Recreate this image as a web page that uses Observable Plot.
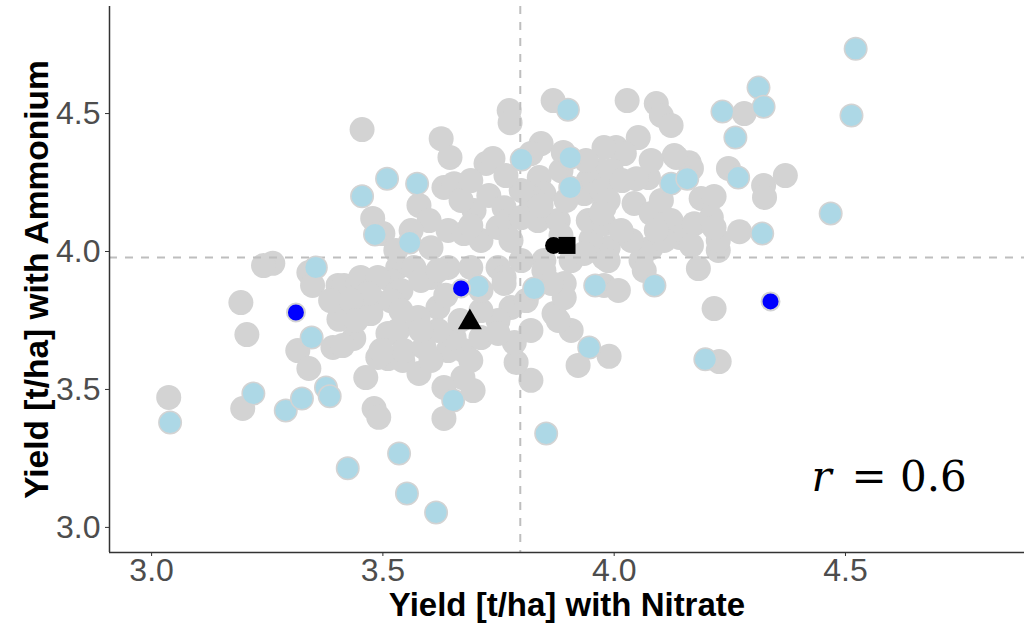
<!DOCTYPE html>
<html>
<head>
<meta charset="utf-8">
<script src="https://cdn.jsdelivr.net/npm/d3@7"></script>
<script src="https://cdn.jsdelivr.net/npm/@observablehq/plot@0.6"></script>
<style>
  html, body { margin: 0; padding: 0; background: #ffffff; }
  #chart svg { display: block; }
</style>
</head>
<body>
<div id="chart"></div>
<script>
// All sites: [yield with nitrate, yield with ammonium] (t/ha)
const allSites = [
  [3.037,3.471],[3.197,3.431],[3.193,3.815],[3.206,3.699],[3.262,3.957],[3.242,3.949],[3.316,3.641],[3.340,3.576],
  [3.340,3.924],[3.348,3.877],[3.403,3.877],[3.405,3.754],[3.437,3.685],[3.392,3.652],[3.413,3.659],[3.459,3.775],
  [3.416,3.877],[3.446,3.884],[3.474,3.888],[3.481,3.822],[3.463,3.543],[3.481,3.431],[3.491,3.399],[3.511,3.703],
  [3.511,3.612],[3.543,3.605],[3.578,3.558],[3.632,3.395],[3.695,3.496],[3.673,3.543],[3.632,3.507],[3.820,3.533],
  [3.788,3.598],[3.784,3.670],[3.922,3.587],[3.989,3.620],[3.907,3.714],[3.879,3.750],[4.216,3.793],[4.227,3.601],
  [4.182,3.938],[4.225,4.004],[4.225,4.040],[3.978,3.877],[4.009,3.859],
  [3.455,4.442],[3.626,4.409],[3.645,4.341],[3.773,4.511],[3.775,4.467],[3.868,4.547],[4.028,4.547],[4.091,4.536],
  [4.102,4.493],[4.123,4.457],[4.281,4.500],[4.247,4.301],[4.323,4.239],[4.325,4.196],[4.370,4.275],[4.271,4.072],
  [4.188,4.192],[4.216,4.199],[4.074,4.268],[4.048,4.264],[4.134,4.341],[4.162,4.322],[4.167,4.301],[4.130,4.348],
  [4.052,4.413],[4.004,4.377],[4.022,4.355],[3.978,4.377],[3.972,4.293],[3.842,4.391],[3.820,4.355],[3.890,4.359],
  [3.723,4.319],[3.738,4.337],[3.838,4.268],[3.848,4.210],[3.820,4.196],[3.944,4.257],[3.935,4.210],[3.972,4.221],
  [3.978,4.159],[3.994,4.293],[3.987,4.185],[4.043,4.174],[4.080,4.138],[4.123,4.112],[4.141,4.051],[4.173,4.101],
  [4.210,4.123],[4.216,4.087],[4.080,4.014],[4.058,3.967],[3.987,4.014],[3.978,3.978],
  [3.478,4.120],[3.500,4.065],[3.578,4.167],[3.632,4.232],[3.654,4.246],[3.697,4.149],[3.729,4.203],[3.762,4.159],
  [3.600,4.112],[3.641,4.076],[3.675,4.065],[3.712,4.040],[3.749,4.087],[3.771,4.112],[3.777,4.040],[3.799,4.123],
  [3.835,4.112],[3.879,4.112],[3.604,4.014],[3.950,4.045],[3.944,4.112],[3.978,4.101],[3.848,3.967],[3.907,3.967],
  [3.532,3.942],[3.567,3.942],[3.641,3.942],[3.690,3.942],[3.749,3.942],
  [3.452,3.906],[3.517,3.895],[3.604,3.906],[3.762,3.906],[3.848,3.931],[3.892,3.884],[3.935,3.993],[3.987,3.967],
  [4.108,4.040],[3.489,3.906],[3.539,3.859],[3.582,3.895],[3.619,3.931],[3.762,3.884],[3.777,3.797],[3.749,3.750],
  [3.712,3.786],[3.619,3.797],[3.576,3.761],[3.532,3.714],[3.489,3.616],[3.545,3.641],[3.589,3.652],[3.641,3.641],
  [3.675,3.641],[3.654,3.688],[3.619,3.714],[3.712,3.688],[3.749,3.703],[3.870,3.775],[3.892,3.833],[3.864,3.884],
  [3.517,3.822],[3.474,3.775],[3.496,3.641],[3.468,3.848],[4.065,3.931],[4.017,4.257],[3.972,4.138],[4.037,4.040],
  [3.669,4.185],[3.690,4.094],[3.561,4.076],[3.528,4.004],[3.636,3.841],[3.810,3.822],[3.820,3.714],[3.799,3.967],
  [3.885,4.058],[3.842,4.167],[3.896,4.185],[4.015,4.076],[4.102,4.185],[4.167,4.022],[4.091,4.076],[3.799,4.221],
  [3.766,4.275],[3.690,4.257],[3.885,4.293],[3.939,4.330],[4.080,4.330],[3.387,3.822],[3.431,3.822],[3.442,3.750],
  [3.539,3.786],[3.582,3.714],[3.667,3.750],[3.712,3.859],[3.604,3.605],[3.690,3.605]
];

// Highlighted sites (light blue)
const highlightSites = [
  [3.040,3.380],[3.220,3.485],[3.290,3.424],[3.325,3.467],[3.377,3.507],[3.385,3.475],[3.346,3.688],[3.355,3.942],
  [3.424,3.214],[3.455,4.200],[3.483,4.062],[3.509,4.264],[3.574,4.246],[3.558,4.033],[3.535,3.268],[3.552,3.123],
  [3.615,3.054],[3.652,3.460],[3.706,3.873],[3.800,4.333],[3.900,4.514],[3.905,4.340],[3.905,4.232],[3.827,3.866],
  [3.853,3.340],[3.959,3.877],[3.946,3.652],[4.087,3.877],[4.123,4.246],[4.158,4.264],[4.197,3.609],[4.234,4.507],
  [4.262,4.413],[4.268,4.268],[4.312,4.594],[4.323,4.525],[4.320,4.065],[4.468,4.138],[4.513,4.493],[4.522,4.735]
];

// Focus sites (blue)
const focusSites = [[3.312,3.779],[3.669,3.866],[4.338,3.819]];

// Summary markers
const circleMarker = [[3.869,4.022]];
const squareMarker = [[3.898,4.022]];
const triangleMarker = [[3.688,3.743]];

// Reference lines (means)
const meanNitrate = 3.797;
const meanAmmonium = 3.978;

const xDomain = [2.909, 4.887];
const yDomain = [2.909, 4.888];
const xTicks = [3.0, 3.5, 4.0, 4.5];
const yTicks = [3.0, 3.5, 4.0, 4.5];
const xTitle = "Yield [t/ha] with Nitrate";
const yTitle = "Yield [t/ha] with Ammonium";
const rLabel = "r";
const rValue = "= 0.6";

const X = d => d[0], Y = d => d[1];

const chart = Plot.plot({
  width: 1024,
  height: 625,
  marginLeft: 109,
  marginRight: 0,
  marginTop: 6,
  marginBottom: 73,
  x: {domain: xDomain},
  y: {domain: yDomain},
  style: {fontFamily: "'Liberation Sans', Arial, Helvetica, sans-serif", background: "#ffffff", overflow: "visible"},
  marks: [
    Plot.dot(allSites, {x: X, y: Y, r: 12.5, fill: "#d3d3d3"}),
    Plot.ruleX([meanNitrate], {stroke: "#bebebe", strokeWidth: 2, strokeDasharray: "8,8"}),
    Plot.ruleY([meanAmmonium], {stroke: "#bebebe", strokeWidth: 2, strokeDasharray: "8,8"}),
    Plot.dot(highlightSites, {x: X, y: Y, r: 11.25, fill: "#add8e6", stroke: "#d3d3d3", strokeWidth: 1.5}),
    Plot.dot(focusSites, {x: X, y: Y, r: 9, fill: "#0000ff", stroke: "#d3d3d3", strokeWidth: 2}),
    Plot.dot(circleMarker, {x: X, y: Y, r: 8.5, fill: "#000000", symbol: "circle"}),
    Plot.dot(squareMarker, {x: X, y: Y, r: 9.6, fill: "#000000", symbol: "square"}),
    Plot.dot(triangleMarker, {x: X, y: Y, r: 8.9, fill: "#000000", symbol: "triangle"}),
    Plot.ruleX([xDomain[0]], {stroke: "#333333", strokeWidth: 1.5}),
    Plot.ruleY([yDomain[0]], {stroke: "#333333", strokeWidth: 1.5}),
    Plot.axisX({ticks: xTicks, tickFormat: d3.format(".1f"), tickSize: 4, tickPadding: 2, fontSize: 32, color: "#4d4d4d", stroke: "#333333", label: null}),
    Plot.axisY({ticks: yTicks, tickFormat: d3.format(".1f"), tickSize: 4, tickPadding: 5, fontSize: 32, color: "#4d4d4d", stroke: "#333333", label: null}),
    Plot.text([xTitle], {frameAnchor: "bottom", textAnchor: "middle", lineAnchor: "middle", dy: 53, fontSize: 33, fontWeight: "bold", fill: "#000000"}),
    Plot.text([yTitle], {frameAnchor: "left", textAnchor: "middle", lineAnchor: "middle", dx: -72, rotate: -90, fontSize: 33.5, fontWeight: "bold", fill: "#000000"}),
    Plot.text([rLabel], {x: 4.4264, y: 3.181, textAnchor: "start", fontFamily: "'DejaVu Serif', serif", fontStyle: "italic", fontSize: 42, fill: "#000000"}),
    Plot.text([rValue], {x: 4.4264, y: 3.181, dx: 40, textAnchor: "start", fontFamily: "'DejaVu Serif', serif", fontSize: 42, fill: "#000000"})
  ]
});

document.getElementById("chart").appendChild(chart);
</script>
</body>
</html>
